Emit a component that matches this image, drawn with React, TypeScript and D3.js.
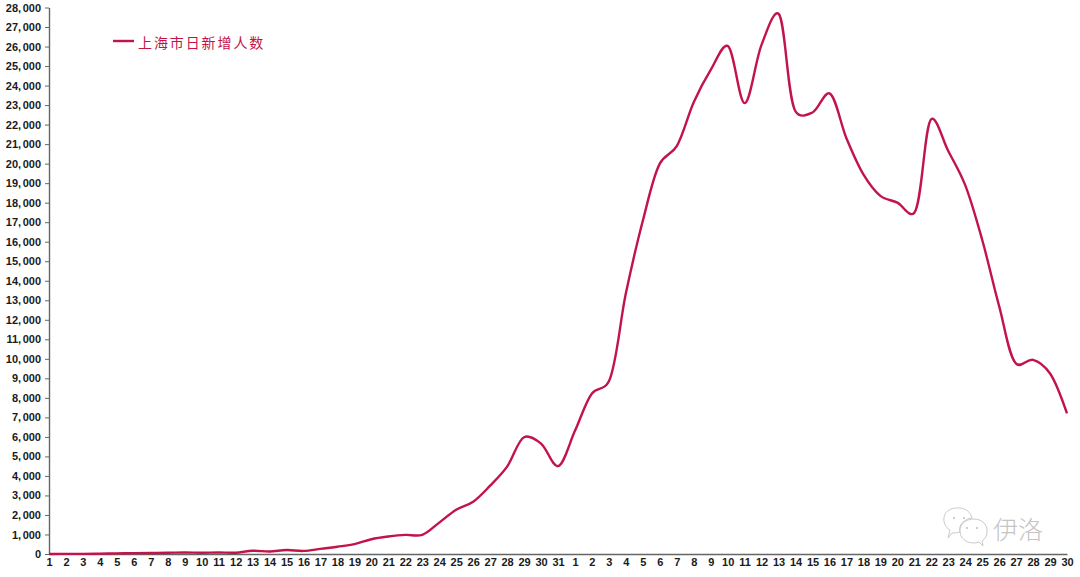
import React, { useEffect, useRef } from "react";
import * as d3 from "d3";

const W = 1080;
const H = 577;

const marchDays = d3.range(1, 32);
const aprilDays = d3.range(1, 31);
const dayLabels = [...marchDays, ...aprilDays].map(String);

const marchValues = [3, 6, 5, 19, 30, 45, 50, 62, 80, 64, 78, 65, 169, 130, 202, 158, 260, 374, 509, 758, 896, 981, 983, 1609, 2269, 2676, 3500, 4477, 5982, 5653, 4502];
const aprilValues = [6311, 8226, 8850, 13354, 17077, 20000, 20900, 23150, 24800, 26030, 23100, 26100, 27680, 22680, 22620, 23600, 21300, 19450, 18350, 18000, 17480, 22280, 20650, 18900, 16100, 12700, 9750, 9950, 9250, 7200];
const dailyValues = [...marchValues, ...aprilValues];

const yTicks = d3.range(0, 28001, 1000);
const seriesName = "上海市日新增人数";
const watermarkText = "伊洛";

const RED = "#c2134a";
const AXIS = "#666666";
const LABEL_FONT = "'Liberation Sans', Arial, sans-serif";
const CJK_FONT = "'Noto Sans CJK SC', sans-serif";

export default function App() {
  const ref = useRef<SVGSVGElement | null>(null);

  useEffect(() => {
    const svg = d3.select(ref.current);
    svg.selectAll("*").remove();

    const x = d3.scaleLinear().domain([0, dayLabels.length - 1]).range([49, 1067]);
    const y = d3.scaleLinear().domain([0, 28000]).range([554, 7.5]);

    // y axis
    const yAxis = svg.append("g").attr("transform", `translate(${x(0)},0)`);
    yAxis.call(d3.axisLeft(y).tickValues(yTicks).tickSize(4).tickSizeOuter(0).tickPadding(4).tickFormat((d) => d3.format(",")(d as number).replace(",", ", ")) as any);
    yAxis.select(".domain").attr("stroke", AXIS).attr("stroke-width", 1.4);
    yAxis.selectAll(".tick line").attr("stroke", AXIS).attr("stroke-width", 1);
    yAxis.selectAll("text")
      .attr("font-family", LABEL_FONT)
      .attr("font-size", 11)
      .attr("font-weight", 700)
      .attr("fill", "#1a1a1a")
      .attr("word-spacing", "-1.5px");

    // x axis
    const xAxis = svg.append("g").attr("transform", `translate(0,${y(0)})`);
    xAxis.call(d3.axisBottom(x).tickValues(d3.range(dayLabels.length)).tickSize(0).tickPadding(4).tickFormat((d) => dayLabels[d as number]) as any);
    xAxis.select(".domain").attr("stroke", AXIS).attr("stroke-width", 1.4);
    xAxis.selectAll("text")
      .attr("font-family", LABEL_FONT)
      .attr("font-size", 11)
      .attr("font-weight", 700)
      .attr("fill", "#1a1a1a");

    // series
    const line = d3.line<number>()
      .x((_, i) => x(i))
      .y((d) => y(d))
      .curve(d3.curveCatmullRom.alpha(0.3));
    svg.append("path")
      .attr("d", line(dailyValues))
      .attr("fill", "none")
      .attr("stroke", RED)
      .attr("stroke-width", 2.4)
      .attr("stroke-linejoin", "round");

    // legend
    svg.append("line").attr("x1", 113).attr("x2", 134).attr("y1", 41).attr("y2", 41).attr("stroke", RED).attr("stroke-width", 2.4);
    svg.append("text")
      .attr("x", 138).attr("y", 48)
      .attr("font-family", CJK_FONT)
      .attr("font-size", 14)
      .attr("letter-spacing", "1.9px")
      .attr("fill", RED)
      .text(seriesName);

    // watermark
    const wm = svg.append("g").attr("fill", "#ffffff").attr("stroke", "#c9c9c9").attr("stroke-width", 1);
    wm.append("path").attr("d", "M 948 538 L 950 530 C 941 525 941 509 956 508 C 966 507 971 513 972 518 C 964 519 958 525 960 532 C 956 533 954 533 952 533 Z");
    wm.append("path").attr("d", "M 983 546 L 979 542 C 971 545 960 541 960 531 C 960 523 967 519 974 519 C 982 519 988 525 987 532 C 987 536 985 539 982 541 Z");
    [[954, 518], [964, 518], [967, 528], [977, 528]].forEach(([cx, cy]) => {
      wm.append("circle").attr("cx", cx).attr("cy", cy).attr("r", 1).attr("fill", "#bdbdbd").attr("stroke", "none");
    });
    svg.append("text")
      .attr("x", 993).attr("y", 539)
      .attr("font-family", CJK_FONT)
      .attr("font-size", 25)
      .attr("font-weight", 300)
      .attr("fill", "#c4c4c4")
      .text(watermarkText);
  }, []);

  return <svg ref={ref} width={W} height={H} style={{ position: "absolute", left: 0, top: 0, background: "#fff" }} />;
}
